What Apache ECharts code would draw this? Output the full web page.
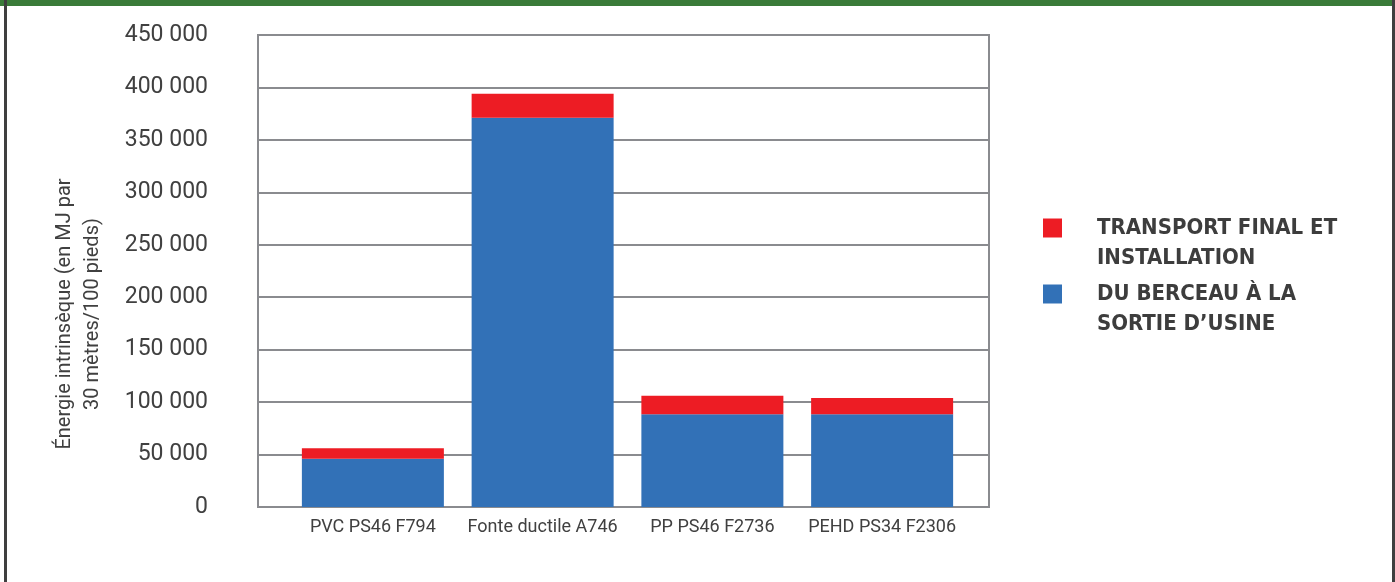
<!DOCTYPE html>
<html>
<head>
<meta charset="utf-8">
<script src="https://cdn.jsdelivr.net/npm/echarts@6/dist/echarts.min.js"></script>
<style>
html,body{margin:0;padding:0;background:#fff;}
#chart{width:1395px;height:582px;}
</style>
</head>
<body>
<div id="chart"></div>
<script>
const categories = ['PVC PS46 F794', 'Fonte ductile A746', 'PP PS46 F2736', 'PEHD PS34 F2306'];
const usineValues = [46000, 371000, 88500, 88500];
const transportValues = [10000, 23000, 17500, 15400];
const seriesNames = ['DU BERCEAU À LA\nSORTIE D\u2019USINE', 'TRANSPORT FINAL ET\nINSTALLATION'];
const yAxisTitle = 'Énergie intrinsèque (en MJ par\n30 mètres/100 pieds)';

const FONT = "'Roboto', 'Liberation Sans', sans-serif";
const BOLD_FONT = "'DejaVu Sans Condensed', 'Roboto', sans-serif";
const GRID_COLOR = '#8a8b8f';
const fmt = v => String(Math.round(v)).replace(/\B(?=(\d{3})+(?!\d))/g, ' ');

const chart = echarts.init(document.getElementById('chart'), null, {renderer: 'canvas'});
chart.setOption({
  backgroundColor: '#ffffff',
  animation: false,
  grid: [
    {left: 258, right: 406, top: 35, bottom: 75, show: true, borderColor: GRID_COLOR, borderWidth: 2, backgroundColor: 'transparent'},
    {left: 288, right: 428, top: 35, bottom: 75}
  ],
  xAxis: [
    {gridIndex: 0, type: 'value', show: false, min: 0, max: 1},
    {gridIndex: 1, type: 'category', data: categories,
     axisLine: {show: false}, axisTick: {show: false},
     axisLabel: {interval: 0, margin: 11, fontFamily: FONT, fontSize: 18, color: '#404040'}}
  ],
  yAxis: [
    {gridIndex: 0, type: 'value', min: 0, max: 450000, interval: 50000,
     axisLine: {show: true, lineStyle: {color: GRID_COLOR, width: 2}},
     axisTick: {show: false},
     splitLine: {show: true, lineStyle: {color: GRID_COLOR, width: 2}},
     axisLabel: {margin: 50, fontFamily: FONT, fontSize: 23, color: '#404040', formatter: fmt}},
    {gridIndex: 1, type: 'value', min: 0, max: 450000, interval: 50000, show: false, splitLine: {show: false}}
  ],
  legend: {
    orient: 'vertical', left: 1038, top: 178,
    data: [seriesNames[1], seriesNames[0]],
    formatter: name => '\n' + name,
    itemWidth: 19, itemHeight: 19, itemGap: -24,
    icon: 'rect', selectedMode: false,
    textStyle: {fontFamily: BOLD_FONT, fontWeight: 'bold', fontSize: 22, color: '#3d3d3d', lineHeight: 30, padding: [0, 0, 0, 30]}
  },
  graphic: [
    {type: 'rect', shape: {x: 0, y: 0, width: 1395, height: 6}, style: {fill: '#3a7b39'}},
    {type: 'rect', shape: {x: 4, y: 0, width: 3, height: 582}, style: {fill: '#3f3f3f'}},
    {type: 'rect', shape: {x: 1392, y: 0, width: 3, height: 582}, style: {fill: '#3f3f3f'}},
    {type: 'text', x: 79, y: 314, rotation: Math.PI / 2,
     style: {text: yAxisTitle, fontFamily: FONT, fontSize: 20, fill: '#404040', align: 'center', verticalAlign: 'middle', lineHeight: 28}}
  ],
  series: [
    {name: seriesNames[0], type: 'bar', stack: 'total', xAxisIndex: 1, yAxisIndex: 1,
     barWidth: 142, itemStyle: {color: '#3271b7'}, data: usineValues},
    {name: seriesNames[1], type: 'bar', stack: 'total', xAxisIndex: 1, yAxisIndex: 1,
     barWidth: 142, itemStyle: {color: '#ed1c24'}, data: transportValues}
  ]
});
</script>
</body>
</html>
